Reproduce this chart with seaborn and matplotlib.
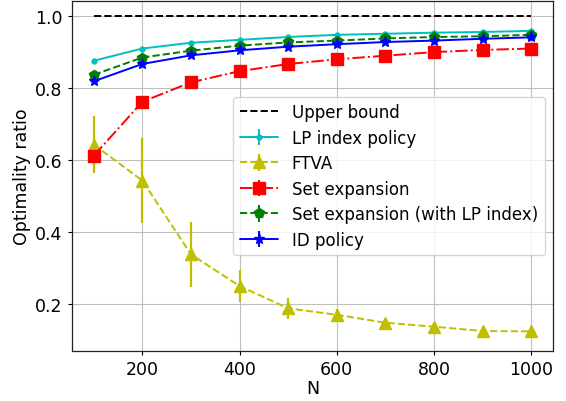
import numpy as np
import seaborn as sns
import matplotlib
matplotlib.use("Agg")
import matplotlib.pyplot as plt

N = [100, 200, 300, 400, 500, 600, 700, 800, 900, 1000]
upper = [1.0] * 10
lp_index = [0.876, 0.910, 0.926, 0.934, 0.942, 0.948, 0.951, 0.954, 0.956, 0.959]
lp_index_err = [0.004, 0.003, 0.003, 0.002, 0.002, 0.002, 0.002, 0.002, 0.002, 0.002]
ftva = [0.643, 0.543, 0.338, 0.250, 0.188, 0.170, 0.148, 0.137, 0.125, 0.124]
ftva_err = [0.08, 0.117, 0.09, 0.045, 0.03, 0.015, 0.01, 0.006, 0.005, 0.004]
set_exp = [0.612, 0.762, 0.816, 0.847, 0.867, 0.880, 0.890, 0.900, 0.906, 0.910]
set_exp_err = [0.012, 0.008, 0.006, 0.005, 0.004, 0.004, 0.003, 0.003, 0.003, 0.003]
set_exp_lp = [0.837, 0.885, 0.904, 0.918, 0.927, 0.932, 0.938, 0.942, 0.944, 0.948]
set_exp_lp_err = [0.006, 0.004, 0.003, 0.003, 0.002, 0.002, 0.002, 0.002, 0.002, 0.002]
id_policy = [0.819, 0.867, 0.891, 0.905, 0.915, 0.922, 0.928, 0.932, 0.937, 0.941]
id_policy_err = [0.006, 0.004, 0.003, 0.003, 0.002, 0.002, 0.002, 0.002, 0.002, 0.002]

sns.set_style("ticks")
plt.rcParams["font.family"] = ["DejaVu Sans"]
plt.rcParams["font.size"] = 12.5
plt.rcParams["text.color"] = "black"
plt.rcParams["axes.labelcolor"] = "black"

fig, ax = plt.subplots(figsize=(5.66, 4.02), dpi=100)
fig.subplots_adjust(left=0.127, right=0.977, bottom=0.124, top=0.995)

sns.lineplot(x=N, y=upper, ax=ax, color="k", linestyle="--", label="Upper bound", lw=1.4)
ax.errorbar(N, lp_index, yerr=lp_index_err, fmt="c.-", label="LP index policy", lw=1.4, ms=7)
ax.errorbar(N, ftva, yerr=ftva_err, fmt="y^--", label="FTVA", lw=1.4, ms=8, elinewidth=1.6)
ax.errorbar(N, set_exp, yerr=set_exp_err, fmt="rs-.", label="Set expansion", lw=1.4, ms=8)
ax.errorbar(N, set_exp_lp, yerr=set_exp_lp_err, fmt="gp--", label="Set expansion (with LP index)", lw=1.4, ms=7)
ax.errorbar(N, id_policy, yerr=id_policy_err, fmt="b*-", label="ID policy", lw=1.4, ms=8)

ax.set_ylim(0.069, 1.042)
ax.set_yticks([0.2, 0.4, 0.6, 0.8, 1.0])
ax.set_xticks([200, 400, 600, 800, 1000])
ax.grid(True, color="#c0c0c0", lw=0.8)
ax.set_xlabel("N", labelpad=0.5)
ax.set_ylabel("Optimality ratio", labelpad=3)
for s in ax.spines.values():
    s.set_color("#222222")
    s.set_linewidth(0.9)
ax.tick_params(colors="k", length=3.2, width=0.8, pad=3.5)
ax.legend(loc="center right", fontsize=12, handlelength=2.3, labelspacing=0.45)

fig.savefig("out.png")
